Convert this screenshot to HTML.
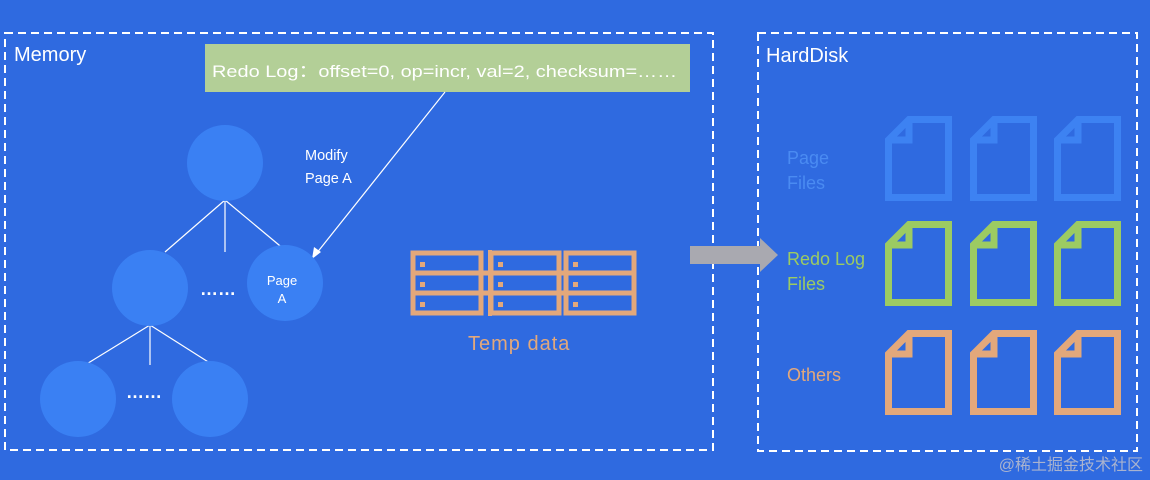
<!DOCTYPE html>
<html><head><meta charset="utf-8"><style>
body{margin:0;background:#2f6ae0;}
svg{display:block}
text{font-family:"Liberation Sans","Noto Sans CJK SC",sans-serif}
</style></head><body>
<svg width="1150" height="480" viewBox="0 0 1150 480">
<rect width="1150" height="480" fill="#2f6ae0"/>
<rect x="5" y="33" width="708" height="417" fill="none" stroke="#fff" stroke-width="2" stroke-dasharray="8,5"/>
<rect x="758" y="33" width="379" height="418" fill="none" stroke="#fff" stroke-width="2" stroke-dasharray="8,5"/>
<text x="14" y="61" fill="#fff" font-size="20">Memory</text>
<text x="766" y="62" fill="#fff" font-size="20">HardDisk</text>
<rect x="205" y="44" width="485" height="48" fill="#b3cf97"/>
<text x="212" y="77" fill="#fff" font-size="17" textLength="465" lengthAdjust="spacingAndGlyphs">Redo Log：offset=0, op=incr, val=2, checksum=……</text>
<g stroke="#fff" stroke-width="1.2">
<line x1="225" y1="200" x2="165" y2="252"/><line x1="225" y1="200" x2="225" y2="252"/><line x1="225" y1="200" x2="285" y2="250"/>
<line x1="150" y1="325" x2="85" y2="365"/><line x1="150" y1="325" x2="150" y2="365"/><line x1="150" y1="325" x2="213" y2="365"/>
<line x1="445" y1="92" x2="316" y2="254"/>
</g>
<polygon points="312,259 314,247 321,252" fill="#fff"/>
<g fill="#3a80f3">
<ellipse cx="225" cy="163" rx="38" ry="38"/>
<circle cx="150" cy="288" r="38"/>
<circle cx="285" cy="283" r="38"/>
<circle cx="78" cy="399" r="38"/>
<circle cx="210" cy="399" r="38"/>
</g>
<text x="200" y="295" fill="#fff" font-size="18" font-weight="bold">……</text>
<text x="126" y="398" fill="#fff" font-size="18" font-weight="bold">……</text>
<text x="282" y="285" fill="#fff" font-size="13" text-anchor="middle">Page</text>
<text x="282" y="303" fill="#fff" font-size="13" text-anchor="middle">A</text>
<text x="305" y="160" fill="#fff" font-size="14.5">Modify</text>
<text x="305" y="183" fill="#fff" font-size="14.5">Page A</text>
<g fill="none" stroke="#e3a87b" stroke-width="5">
<rect x="413" y="253" width="68" height="60"/><rect x="491" y="253" width="68" height="60"/><rect x="566" y="253" width="68" height="60"/>
<line x1="413" y1="273" x2="634" y2="273"/><line x1="413" y1="293" x2="634" y2="293"/>
</g>
<g fill="#e3a87b">
<rect x="420" y="262" width="5" height="5"/><rect x="420" y="282" width="5" height="5"/><rect x="420" y="302" width="5" height="5"/>
<rect x="498" y="262" width="5" height="5"/><rect x="498" y="282" width="5" height="5"/><rect x="498" y="302" width="5" height="5"/>
<rect x="573" y="262" width="5" height="5"/><rect x="573" y="282" width="5" height="5"/><rect x="573" y="302" width="5" height="5"/>
</g>
<rect x="488" y="250" width="4" height="66" fill="#e3a87b"/>
<text x="468" y="350" fill="#e3a87b" font-size="20" letter-spacing="1">Temp data</text>
<polygon points="690,246 760,246 760,238 778,255 760,272 760,264 690,264" fill="#a9a9b0"/>
<defs>
<g id="doc"><path d="M24,3.5 L63.5,3.5 L63.5,81.5 L3.5,81.5 L3.5,24 Z M3.5,24 L24,24 L24,3.5" fill="none" stroke-width="7" stroke-linejoin="miter"/></g>
</defs>
<g stroke="#3d82f2">
<use href="#doc" x="885" y="116"/><use href="#doc" x="970" y="116"/><use href="#doc" x="1054" y="116"/>
</g>
<g stroke="#9ccb62">
<use href="#doc" x="885" y="221"/><use href="#doc" x="970" y="221"/><use href="#doc" x="1054" y="221"/>
</g>
<g stroke="#e3a87b">
<use href="#doc" x="885" y="330"/><use href="#doc" x="970" y="330"/><use href="#doc" x="1054" y="330"/>
</g>
<text x="787" y="164" fill="#4a8bf2" font-size="18">Page</text>
<text x="787" y="189" fill="#4a8bf2" font-size="18">Files</text>
<text x="787" y="265" fill="#9ccb62" font-size="18">Redo Log</text>
<text x="787" y="290" fill="#9ccb62" font-size="18">Files</text>
<text x="787" y="381" fill="#e3a87b" font-size="18">Others</text>
<text x="1143" y="470" fill="#a9b3cf" font-size="16" text-anchor="end">@稀土掘金技术社区</text>
</svg>
</body></html>
